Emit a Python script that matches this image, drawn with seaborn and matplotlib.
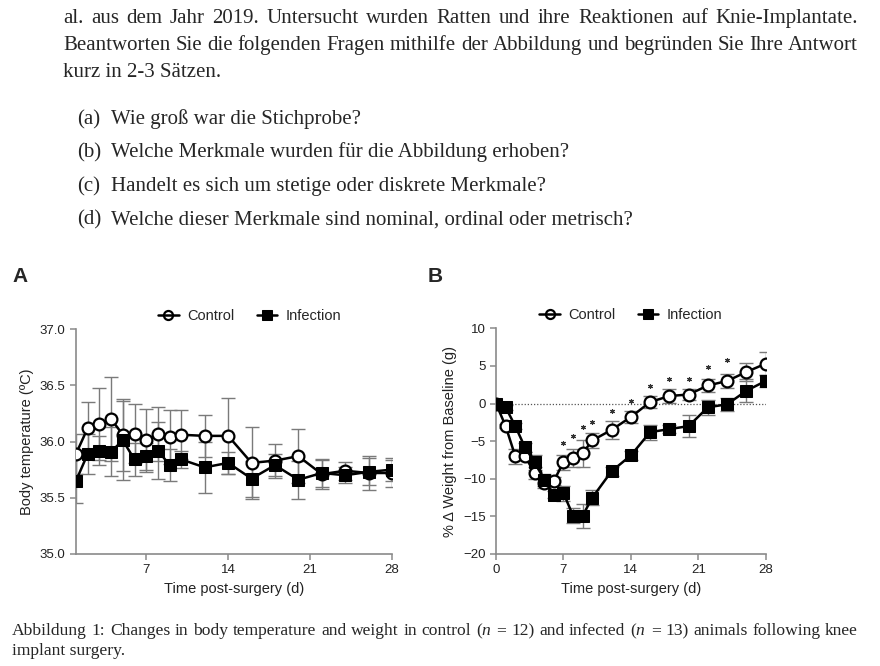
import numpy as np
import pandas as pd
import seaborn as sns
from matplotlib import pyplot as plt

# panel A - body temperature
days_a = [1, 2, 3, 4, 5, 6, 7, 8, 9, 10, 12, 14, 16, 18, 20, 22, 24, 26, 28]
temp_ctrl = [35.89, 36.12, 36.16, 36.20, 36.06, 36.07, 36.01, 36.07, 36.04, 36.06, 36.05, 36.05,
             35.81, 35.83, 35.87, 35.71, 35.74, 35.72, 35.72]
temp_ctrl_err = [0.18, 0.23, 0.32, 0.37, 0.32, 0.26, 0.28, 0.24, 0.24, 0.22, 0.19, 0.34,
                 0.32, 0.15, 0.24, 0.13, 0.08, 0.15, 0.12]
temp_inf = [35.65, 35.89, 35.92, 35.91, 36.01, 35.84, 35.87, 35.92, 35.79, 35.84, 35.77, 35.81,
            35.67, 35.79, 35.66, 35.72, 35.70, 35.73, 35.75]
temp_inf_err = [0.20, 0.18, 0.13, 0.22, 0.35, 0.15, 0.12, 0.25, 0.14, 0.08, 0.23, 0.10,
                0.16, 0.10, 0.17, 0.12, 0.07, 0.12, 0.10]

# panel B - weight change
days_b = [0, 1, 2, 3, 4, 5, 6, 7, 8, 9, 10, 12, 14, 16, 18, 20, 22, 24, 26, 28]
wt_ctrl = [0, -3.0, -7.0, -7.0, -9.2, -10.6, -10.3, -7.8, -7.3, -6.6, -4.9, -3.5, -1.8,
           0.2, 1.0, 1.2, 2.4, 3.0, 4.2, 5.3]
wt_ctrl_err = [0, 0.3, 1.0, 0.5, 0.8, 0.6, 0.5, 1.0, 1.2, 1.8, 1.0, 1.2, 0.8,
               0.8, 0.9, 0.7, 0.9, 0.9, 1.2, 1.5]
wt_inf = [0, -0.5, -3.0, -5.8, -7.8, -10.1, -12.1, -11.9, -14.9, -14.9, -12.5, -9.0, -6.9,
          -3.8, -3.4, -3.0, -0.5, -0.1, 1.7, 3.0]
wt_inf_err = [0, 0.3, 0.4, 0.6, 1.0, 0.8, 0.5, 1.0, 1.0, 1.6, 1.0, 0.6, 0.6,
              1.0, 0.5, 1.5, 1.0, 0.9, 1.5, 0.8]
star_days = [7, 8, 9, 10, 12, 14, 16, 18, 20, 22, 24]
star_y = [-5.3, -4.3, -3.1, -2.4, -1.0, 0.4, 2.3, 3.2, 3.3, 4.8, 5.8]

top_lines = [
    "al. aus dem Jahr 2019. Untersucht wurden Ratten und ihre Reaktionen auf Knie-Implantate.",
    "Beantworten Sie die folgenden Fragen mithilfe der Abbildung und begründen Sie Ihre Antwort",
    "kurz in 2-3 Sätzen.",
]
questions = [
    ("(a)", "Wie groß war die Stichprobe?"),
    ("(b)", "Welche Merkmale wurden für die Abbildung erhoben?"),
    ("(c)", "Handelt es sich um stetige oder diskrete Merkmale?"),
    ("(d)", "Welche dieser Merkmale sind nominal, ordinal oder metrisch?"),
]
caption = [
    "Abbildung 1: Changes in body temperature and weight in control ($n$ = 12) and infected ($n$ = 13) animals following knee",
    "implant surgery.",
]

sns.set_style("ticks")
plt.rcParams['font.family'] = ['Liberation Sans', 'DejaVu Sans']
plt.rcParams['mathtext.fontset'] = 'custom'
plt.rcParams['mathtext.it'] = 'Liberation Serif:italic'
plt.rcParams['mathtext.rm'] = 'Liberation Serif'

fig = plt.figure(figsize=(8.8, 6.66), dpi=100)
W, H = 880, 666
serif = 'Liberation Serif'
renderer = fig.canvas.get_renderer()


def put(x, y, s, size):
    # y is the baseline in pixels from the top
    return fig.text(x / W, 1 - y / H, s, family=serif, fontsize=size, va='baseline', ha='left')


def justified(text, x0, x1, y, size):
    # place words one by one so the line fills x0..x1
    words = text.split(" ")
    arts = [put(0, y, w, size) for w in words]
    widths = [a.get_window_extent(renderer).width for a in arts]
    gap = (x1 - x0 - sum(widths)) / (len(words) - 1)
    x = x0
    for a, w in zip(arts, widths):
        a.set_x(x / W)
        x += w + gap


justified(top_lines[0], 63, 858, 23, 15)
justified(top_lines[1], 63, 858, 50, 15)
put(63, 77, top_lines[2], 15)
for i, (lab, q) in enumerate(questions):
    y = 124 + 33.5 * i
    put(77, y, lab, 15)
    put(111, y, q, 15)
justified(caption[0], 12, 858, 635, 12.6)
put(12, 655, caption[1], 12.6)

fig.text(12 / W, 1 - 276 / H, "A", fontsize=15, fontweight='bold', va='center')
fig.text(428 / W, 1 - 276 / H, "B", fontsize=15, fontweight='bold', va='center')

axA = fig.add_axes([76 / W, 1 - 554 / H, 316 / W, 225 / H])
axB = fig.add_axes([496 / W, 1 - 554 / H, 269.7 / W, 225.7 / H])

dfA = pd.DataFrame({
    "day": days_a * 2,
    "value": temp_ctrl + temp_inf,
    "group": ["Control"] * len(days_a) + ["Infection"] * len(days_a),
})
dfB = pd.DataFrame({
    "day": days_b * 2,
    "value": wt_ctrl + wt_inf,
    "group": ["Control"] * len(days_b) + ["Infection"] * len(days_b),
})

err_color = "#7a7a7a"
spine_color = "#8a8a8a"


def draw(ax, df, days, c, ce, inf, ie, anchor_x):
    sns.lineplot(data=df, x="day", y="value", hue="group", style="group",
                 palette={"Control": "black", "Infection": "black"},
                 markers={"Control": "o", "Infection": "s"}, dashes=False,
                 markersize=8.5, linewidth=1.8, ax=ax, legend=False, zorder=3)
    lines = ax.get_lines()[:2]
    lines[0].set_markerfacecolor("white")
    lines[0].set_markeredgecolor("black")
    lines[0].set_markeredgewidth(1.6)
    lines[1].set_markerfacecolor("black")
    lines[1].set_markeredgecolor("black")
    ax.errorbar(days, inf, yerr=ie, fmt='none', ecolor=err_color, elinewidth=1, capsize=5, capthick=1, zorder=1)
    ax.errorbar(days, c, yerr=ce, fmt='none', ecolor=err_color, elinewidth=1, capsize=5, capthick=1, zorder=1)
    sns.despine(ax=ax)
    for s in ["left", "bottom"]:
        ax.spines[s].set_color(spine_color)
        ax.spines[s].set_linewidth(1.2)
    ax.tick_params(colors=spine_color, labelcolor="#222222", labelsize=9.5, length=4, width=1.1)
    ax.set_xlabel("Time post-surgery (d)", fontsize=10.5, color="#222222")
    leg = ax.legend(handles=lines, labels=["Control", "Infection"], ncol=2, frameon=False,
                    loc="lower center", bbox_to_anchor=(anchor_x, 0.97), fontsize=10.5,
                    handlelength=1.4, columnspacing=1.5, handletextpad=0.6)
    for h in leg.legend_handles:
        h.set_markersize(6.5)
    leg.legend_handles[0].set_markerfacecolor("none")


draw(axA, dfA, days_a, temp_ctrl, temp_ctrl_err, temp_inf, temp_inf_err, 0.55)
axA.set_xlim(1, 28)
axA.set_ylim(35.0, 37.0)
axA.set_xticks([7, 14, 21, 28])
axA.set_yticks([35.0, 35.5, 36.0, 36.5, 37.0])
axA.set_yticklabels([f"{v:.1f}" for v in [35.0, 35.5, 36.0, 36.5, 37.0]])
axA.set_ylabel("Body temperature (ºC)", fontsize=10.5, color="#222222")

draw(axB, dfB, days_b, wt_ctrl, wt_ctrl_err, wt_inf, wt_inf_err, 0.5)
axB.axhline(0, color="#555555", linestyle=(0, (1, 1.5)), linewidth=0.9, zorder=0)
axB.plot(star_days, star_y, linestyle="none", marker=(6, 2, 0), markersize=3.5,
         color="#333333", markeredgewidth=0.8)
axB.set_xlim(0, 28)
axB.set_ylim(-20, 10)
axB.set_xticks([0, 7, 14, 21, 28])
axB.set_yticks([-20, -15, -10, -5, 0, 5, 10])
axB.set_ylabel("% Δ Weight from Baseline (g)", fontsize=10.5, color="#222222")

fig.savefig("out.png", dpi=100)
